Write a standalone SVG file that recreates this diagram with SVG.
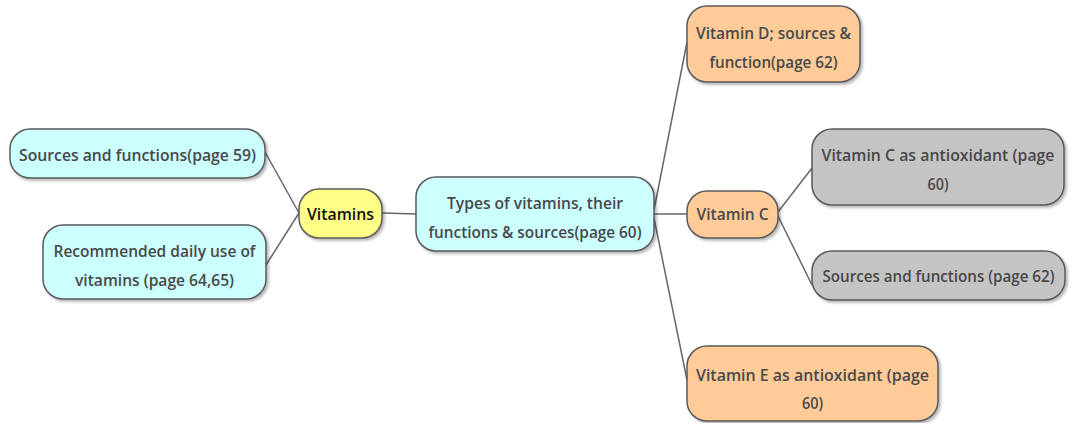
<svg xmlns="http://www.w3.org/2000/svg" width="1072" height="423" viewBox="0 0 1072 423">
  <defs>
    <filter id="shadow" x="-10%" y="-10%" width="130%" height="140%">
      <feGaussianBlur in="SourceAlpha" stdDeviation="1.5"/>
      <feOffset dx="2" dy="2" result="b"/>
      <feComponentTransfer><feFuncA type="linear" slope="0.3"/></feComponentTransfer>
      <feMerge><feMergeNode/><feMergeNode in="SourceGraphic"/></feMerge>
    </filter>
  </defs>
  <style>
    .box { stroke: #5a5a5a; stroke-width: 1.5; filter: url(#shadow); }
    .cyan { fill: #ccffff; }
    .yellow { fill: #ffff88; }
    .orange { fill: #ffcc99; }
    .gray { fill: #c4c4c4; }
    .lbl { font-family: "Open Sans", "Liberation Sans", sans-serif; font-weight: 600; font-size: 17px; fill: #484848; text-anchor: middle; }
    .root { fill: #111111; }
    .edge { stroke: #666666; stroke-width: 1.5; fill: none; }
  </style>

  <g id="connectors">
    <line class="edge" x1="265" y1="152" x2="299" y2="213"/>
    <line class="edge" x1="266" y1="265" x2="299" y2="213"/>
    <line class="edge" x1="382" y1="213" x2="416" y2="214"/>
    <line class="edge" x1="654" y1="210" x2="687" y2="42"/>
    <line class="edge" x1="654" y1="214" x2="687" y2="214"/>
    <line class="edge" x1="654" y1="218" x2="687" y2="380"/>
    <line class="edge" x1="778" y1="212" x2="812" y2="168"/>
    <line class="edge" x1="778" y1="216" x2="812" y2="285"/>
  </g>

  <g id="n-sources59">
    <rect class="box cyan" x="10" y="129" width="255" height="49" rx="20"/>
    <text class="lbl" x="137.5" y="161" textLength="237" lengthAdjust="spacingAndGlyphs">Sources and functions(page 59)</text>
  </g>

  <g id="n-recommended">
    <rect class="box cyan" x="43" y="225" width="223" height="74" rx="20"/>
    <text class="lbl" x="154.5" y="257" textLength="202" lengthAdjust="spacingAndGlyphs">Recommended daily use of</text>
    <text class="lbl" x="154.5" y="286" textLength="159" lengthAdjust="spacingAndGlyphs">vitamins (page 64,65)</text>
  </g>

  <g id="n-vitamins">
    <rect class="box yellow" x="299" y="189" width="83" height="49" rx="20"/>
    <text class="lbl root" x="340.5" y="220" textLength="67" lengthAdjust="spacingAndGlyphs">Vitamins</text>
  </g>

  <g id="n-types">
    <rect class="box cyan" x="416" y="177" width="238" height="74" rx="20"/>
    <text class="lbl" x="535" y="209" textLength="176" lengthAdjust="spacingAndGlyphs">Types of vitamins, their</text>
    <text class="lbl" x="535" y="238" textLength="213" lengthAdjust="spacingAndGlyphs">functions &amp; sources(page 60)</text>
  </g>

  <g id="n-vitd">
    <rect class="box orange" x="687" y="6" width="173" height="76" rx="20"/>
    <text class="lbl" x="773.5" y="39" textLength="155" lengthAdjust="spacingAndGlyphs">Vitamin D; sources &amp;</text>
    <text class="lbl" x="773.5" y="68" textLength="128" lengthAdjust="spacingAndGlyphs">function(page 62)</text>
  </g>

  <g id="n-vitc">
    <rect class="box orange" x="687" y="191" width="91" height="47" rx="20"/>
    <text class="lbl" x="732.5" y="220" textLength="72" lengthAdjust="spacingAndGlyphs">Vitamin C</text>
  </g>

  <g id="n-vitc-antiox">
    <rect class="box gray" x="812" y="129" width="252" height="76" rx="20"/>
    <text class="lbl" x="938" y="161" textLength="233" lengthAdjust="spacingAndGlyphs">Vitamin C as antioxidant (page</text>
    <text class="lbl" x="938" y="190" textLength="21" lengthAdjust="spacingAndGlyphs">60)</text>
  </g>

  <g id="n-sources62">
    <rect class="box gray" x="812" y="251" width="253" height="49" rx="20"/>
    <text class="lbl" x="938.5" y="282" font-size="15" textLength="232" lengthAdjust="spacingAndGlyphs">Sources and functions (page 62)</text>
  </g>

  <g id="n-vite">
    <rect class="box orange" x="687" y="346" width="251" height="75" rx="20"/>
    <text class="lbl" x="812.5" y="381" textLength="233" lengthAdjust="spacingAndGlyphs">Vitamin E as antioxidant (page</text>
    <text class="lbl" x="812.5" y="409" textLength="21" lengthAdjust="spacingAndGlyphs">60)</text>
  </g>
</svg>
